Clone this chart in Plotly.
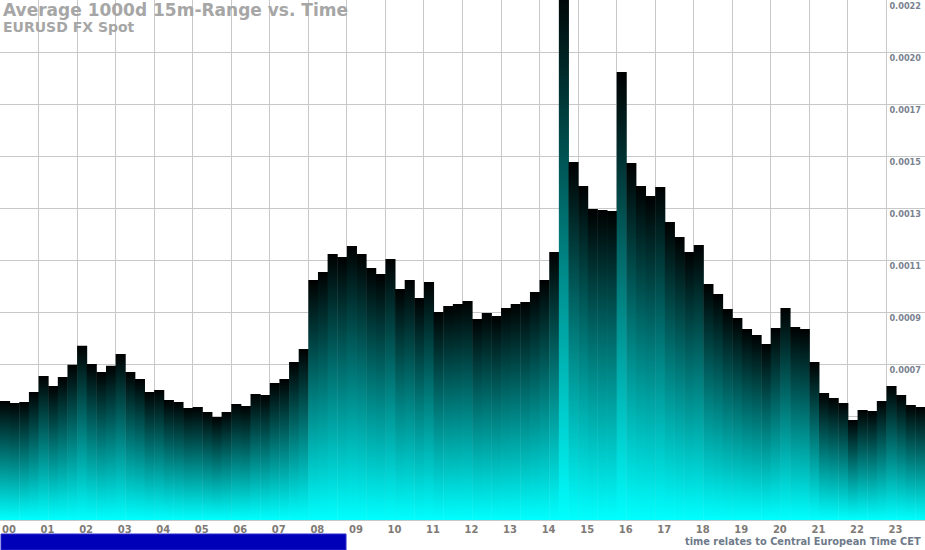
import plotly.graph_objects as go

# average 15-minute range, 96 slots from 00:00 to 23:45 CET
avg_range = [
    0.000499, 0.000491, 0.000495, 0.000537, 0.000604, 0.000562, 0.000600, 0.000651,
    0.000731, 0.000654, 0.000620, 0.000647, 0.000696, 0.000620, 0.000591, 0.000537,
    0.000545, 0.000503, 0.000495, 0.000470, 0.000474, 0.000453, 0.000432, 0.000453,
    0.000486, 0.000478, 0.000528, 0.000524, 0.000574, 0.000591, 0.000662, 0.000717,
    0.001006, 0.001040, 0.001115, 0.001103, 0.001149, 0.001115, 0.001056, 0.001031,
    0.001094, 0.000968, 0.001006, 0.000931, 0.000998, 0.000872, 0.000897, 0.000906,
    0.000918, 0.000843, 0.000868, 0.000855, 0.000889, 0.000906, 0.000914, 0.000956,
    0.001006, 0.001124, 0.002250, 0.001501, 0.001400, 0.001304, 0.001300, 0.001295,
    0.001878, 0.001497, 0.001400, 0.001358, 0.001396, 0.001249, 0.001186, 0.001124,
    0.001153, 0.000989, 0.000947, 0.000885, 0.000847, 0.000801, 0.000776, 0.000738,
    0.000805, 0.000889, 0.000809, 0.000801, 0.000662, 0.000532, 0.000511, 0.000491,
    0.000419, 0.000461, 0.000457, 0.000499, 0.000562, 0.000524, 0.000482, 0.000474,
]
hour_labels = ['%02d' % h for h in range(24)]
y_top = 0.00218
y_labels = ['0.0002', '0.0004', '0.0007', '0.0009', '0.0011',
            '0.0013', '0.0015', '0.0017', '0.0020', '0.0022']

W, H, BOTTOM = 925, 550, 30
plot_h = H - BOTTOM
seam = 0.012  # tiny overlap so neighbouring bars don't show white hairlines

fig = go.Figure()

# one filled rectangle per slot so every bar gets its own black->cyan gradient
for i, v in enumerate(avg_range):
    x0, x1 = i / 4, (i + 1) / 4 + seam
    fig.add_trace(go.Scatter(
        x=[x0, x0, x1, x1, x0], y=[0, v, v, 0, 0],
        mode='lines', line=dict(width=0), fill='toself',
        fillgradient=dict(type='vertical',
                          colorscale=[[0, '#00ffff'], [1, '#000000']]),
        hoverinfo='skip', showlegend=False
    ))

fig.update_xaxes(
    range=[0, 24], tickvals=list(range(24)), ticktext=hour_labels,
    showgrid=True, gridcolor='#c8c8c8', gridwidth=1,
    showline=True, linecolor='#c8c8c8', linewidth=1,
    ticks='', ticklabelshift=9, ticklabelstandoff=0, layer='below traces',
    tickfont=dict(family='DejaVu Sans', size=10, color='#7f7a75', weight='bold'),
    zeroline=False, fixedrange=True
)
fig.update_yaxes(
    range=[0, y_top], tickvals=[y_top * k / 10 for k in range(1, 11)], ticktext=y_labels,
    side='right', ticklabelposition='inside', ticklabeloverflow='allow',
    ticklabelshift=6, ticklabelstandoff=1, layer='below traces',
    showgrid=True, gridcolor='#c8c8c8', gridwidth=1, ticks='',
    tickfont=dict(family='DejaVu Sans', size=8.2, color='#7a8290', weight='bold'),
    zeroline=False, fixedrange=True
)

fig.add_annotation(text='Average 1000d 15m-Range vs. Time', xref='paper', yref='paper',
                   x=0, y=1, xanchor='left', yanchor='top', xshift=1, yshift=2, showarrow=False,
                   font=dict(family='DejaVu Sans', size=17, color='#a6a6a6', weight='bold'))
fig.add_annotation(text='EURUSD FX Spot', xref='paper', yref='paper',
                   x=0, y=1, xanchor='left', yanchor='top', xshift=1, yshift=-17, showarrow=False,
                   font=dict(family='DejaVu Sans', size=14, color='#a6a6a6', weight='bold'))
fig.add_annotation(text='time relates to Central European Time CET', xref='paper', yref='paper',
                   x=1, y=-(541 - plot_h) / plot_h, xanchor='right', yanchor='middle', xshift=-2,
                   showarrow=False,
                   font=dict(family='DejaVu Sans', size=9.8, color='#6e7a8a', weight='bold'))

# blue strip below the axis
fig.add_shape(type='rect', xref='paper', yref='paper',
              x0=1 / W, x1=346 / W, y0=-(534 - plot_h) / plot_h, y1=-(H - plot_h) / plot_h,
              fillcolor='#0000b8', line=dict(color='#2a2ad0', width=1))

fig.update_layout(
    width=W, height=H,
    margin=dict(l=0, r=0, t=0, b=BOTTOM, autoexpand=False),
    plot_bgcolor='white', paper_bgcolor='white',
    showlegend=False
)

fig.write_html('out.html', config={'displayModeBar': False},
               post_script="document.body.style.margin='0';")
